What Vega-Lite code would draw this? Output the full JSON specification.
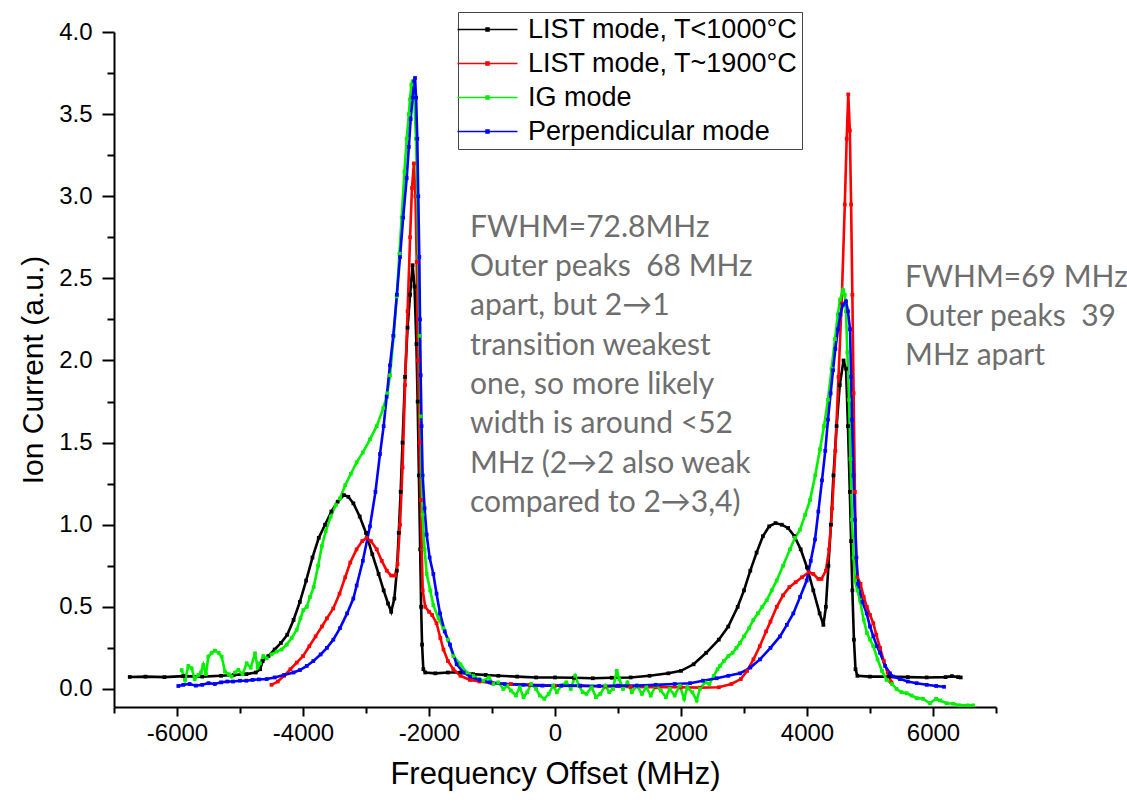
{
  "$schema": "https://vega.github.io/schema/vega-lite/v6.json",
  "width": 882,
  "height": 675,
  "autosize": {"type": "none"},
  "padding": {"left": 114, "top": 32, "right": 131, "bottom": 95},
  "background": "white",
  "config": {
    "view": {"stroke": null},
    "font": "Liberation Sans",
    "axis": {"domainColor": "#000", "domainWidth": 2, "tickColor": "#000", "tickWidth": 2, "labelColor": "#000", "titleColor": "#000", "grid": false, "labelFont": "Liberation Sans", "titleFont": "Liberation Sans", "titleFontWeight": "normal"}
  },
  "datasets": {
    "notes": [
      {"x": -1349, "y": 2.753, "t": ["FWHM=72.8MHz", "Outer peaks\u00a0 68 MHz", "apart, but 2→1", "transition weakest", "one, so more likely", "width is around <52", "MHz (2→2 also weak", "compared to 2→3,4)"]},
      {"x": 5556, "y": 2.448, "t": ["FWHM=69 MHz", "Outer peaks\u00a0 39", "MHz apart"]}
    ]
  },
  "data": {"values": [
    {"s":"A","x":-6750,"y":0.073},{"s":"A","x":-6500,"y":0.075},{"s":"A","x":-6200,"y":0.072},{"s":"A","x":-5900,"y":0.078},{"s":"A","x":-5600,"y":0.075},{"s":"A","x":-5300,"y":0.08},{"s":"A","x":-5100,"y":0.085},{"s":"A","x":-4900,"y":0.09},{"s":"A","x":-4750,"y":0.1},{"s":"A","x":-4680,"y":0.12},{"s":"A","x":-4640,"y":0.17},{"s":"A","x":-4550,"y":0.2},{"s":"A","x":-4450,"y":0.24},{"s":"A","x":-4350,"y":0.28},{"s":"A","x":-4250,"y":0.33},{"s":"A","x":-4150,"y":0.42},{"s":"A","x":-4050,"y":0.53},{"s":"A","x":-3950,"y":0.66},{"s":"A","x":-3850,"y":0.8},{"s":"A","x":-3750,"y":0.92},{"s":"A","x":-3650,"y":1.0},{"s":"A","x":-3550,"y":1.08},{"s":"A","x":-3450,"y":1.14},{"s":"A","x":-3350,"y":1.18},{"s":"A","x":-3280,"y":1.17},{"s":"A","x":-3200,"y":1.13},{"s":"A","x":-3100,"y":1.05},{"s":"A","x":-3000,"y":0.95},{"s":"A","x":-2900,"y":0.82},{"s":"A","x":-2800,"y":0.7},{"s":"A","x":-2720,"y":0.6},{"s":"A","x":-2650,"y":0.52},{"s":"A","x":-2600,"y":0.47},{"s":"A","x":-2550,"y":0.55},{"s":"A","x":-2510,"y":0.72},{"s":"A","x":-2480,"y":0.95},{"s":"A","x":-2450,"y":1.2},{"s":"A","x":-2420,"y":1.5},{"s":"A","x":-2380,"y":1.9},{"s":"A","x":-2340,"y":2.2},{"s":"A","x":-2300,"y":2.4},{"s":"A","x":-2260,"y":2.58},{"s":"A","x":-2230,"y":2.45},{"s":"A","x":-2200,"y":2.1},{"s":"A","x":-2180,"y":1.75},{"s":"A","x":-2160,"y":1.3},{"s":"A","x":-2140,"y":0.85},{"s":"A","x":-2125,"y":0.5},{"s":"A","x":-2110,"y":0.27},{"s":"A","x":-2090,"y":0.12},{"s":"A","x":-2060,"y":0.1},{"s":"A","x":-1900,"y":0.095},{"s":"A","x":-1700,"y":0.1},{"s":"A","x":-1500,"y":0.1},{"s":"A","x":-1300,"y":0.09},{"s":"A","x":-1100,"y":0.085},{"s":"A","x":-900,"y":0.08},{"s":"A","x":-600,"y":0.075},{"s":"A","x":-300,"y":0.07},{"s":"A","x":0,"y":0.07},{"s":"A","x":300,"y":0.068},{"s":"A","x":600,"y":0.065},{"s":"A","x":900,"y":0.068},{"s":"A","x":1200,"y":0.07},{"s":"A","x":1500,"y":0.08},{"s":"A","x":1800,"y":0.095},{"s":"A","x":2000,"y":0.11},{"s":"A","x":2200,"y":0.15},{"s":"A","x":2400,"y":0.22},{"s":"A","x":2600,"y":0.3},{"s":"A","x":2750,"y":0.38},{"s":"A","x":2900,"y":0.5},{"s":"A","x":3000,"y":0.6},{"s":"A","x":3100,"y":0.72},{"s":"A","x":3200,"y":0.83},{"s":"A","x":3300,"y":0.93},{"s":"A","x":3400,"y":0.99},{"s":"A","x":3500,"y":1.01},{"s":"A","x":3600,"y":1.0},{"s":"A","x":3700,"y":0.98},{"s":"A","x":3800,"y":0.93},{"s":"A","x":3900,"y":0.85},{"s":"A","x":4000,"y":0.74},{"s":"A","x":4100,"y":0.6},{"s":"A","x":4200,"y":0.46},{"s":"A","x":4260,"y":0.39},{"s":"A","x":4300,"y":0.5},{"s":"A","x":4340,"y":0.75},{"s":"A","x":4380,"y":1.0},{"s":"A","x":4420,"y":1.3},{"s":"A","x":4470,"y":1.6},{"s":"A","x":4520,"y":1.85},{"s":"A","x":4580,"y":2.0},{"s":"A","x":4620,"y":1.95},{"s":"A","x":4650,"y":1.6},{"s":"A","x":4680,"y":1.2},{"s":"A","x":4700,"y":0.9},{"s":"A","x":4720,"y":0.6},{"s":"A","x":4745,"y":0.3},{"s":"A","x":4770,"y":0.12},{"s":"A","x":4800,"y":0.08},{"s":"A","x":5000,"y":0.075},{"s":"A","x":5300,"y":0.075},{"s":"A","x":5600,"y":0.072},{"s":"A","x":5900,"y":0.07},{"s":"A","x":6200,"y":0.072},{"s":"A","x":6300,"y":0.078},{"s":"A","x":6400,"y":0.072},{"s":"A","x":6440,"y":0.07},

    {"s":"B","x":-4500,"y":0.025},{"s":"B","x":-4400,"y":0.045},{"s":"B","x":-4300,"y":0.08},{"s":"B","x":-4200,"y":0.12},{"s":"B","x":-4100,"y":0.16},{"s":"B","x":-4000,"y":0.2},{"s":"B","x":-3900,"y":0.26},{"s":"B","x":-3800,"y":0.32},{"s":"B","x":-3700,"y":0.38},{"s":"B","x":-3620,"y":0.43},{"s":"B","x":-3520,"y":0.49},{"s":"B","x":-3420,"y":0.58},{"s":"B","x":-3330,"y":0.68},{"s":"B","x":-3250,"y":0.77},{"s":"B","x":-3150,"y":0.85},{"s":"B","x":-3060,"y":0.9},{"s":"B","x":-2990,"y":0.92},{"s":"B","x":-2920,"y":0.9},{"s":"B","x":-2830,"y":0.85},{"s":"B","x":-2750,"y":0.78},{"s":"B","x":-2670,"y":0.72},{"s":"B","x":-2600,"y":0.69},{"s":"B","x":-2540,"y":0.69},{"s":"B","x":-2500,"y":0.76},{"s":"B","x":-2460,"y":1.0},{"s":"B","x":-2420,"y":1.35},{"s":"B","x":-2380,"y":1.85},{"s":"B","x":-2340,"y":2.3},{"s":"B","x":-2300,"y":2.75},{"s":"B","x":-2270,"y":3.05},{"s":"B","x":-2240,"y":3.2},{"s":"B","x":-2215,"y":3.0},{"s":"B","x":-2195,"y":2.6},{"s":"B","x":-2175,"y":2.0},{"s":"B","x":-2150,"y":1.5},{"s":"B","x":-2130,"y":1.15},{"s":"B","x":-2115,"y":0.85},{"s":"B","x":-2100,"y":0.6},{"s":"B","x":-2060,"y":0.5},{"s":"B","x":-2000,"y":0.47},{"s":"B","x":-1950,"y":0.45},{"s":"B","x":-1880,"y":0.4},{"s":"B","x":-1820,"y":0.31},{"s":"B","x":-1770,"y":0.24},{"s":"B","x":-1700,"y":0.17},{"s":"B","x":-1614,"y":0.12},{"s":"B","x":-1500,"y":0.08},{"s":"B","x":-1350,"y":0.055},{"s":"B","x":-1200,"y":0.045},{"s":"B","x":-1000,"y":0.035},{"s":"B","x":-700,"y":0.03},{"s":"B","x":-400,"y":0.025},{"s":"B","x":0,"y":0.02},{"s":"B","x":400,"y":0.018},{"s":"B","x":800,"y":0.015},{"s":"B","x":1200,"y":0.012},{"s":"B","x":1600,"y":0.01},{"s":"B","x":2000,"y":0.01},{"s":"B","x":2300,"y":0.008},{"s":"B","x":2600,"y":0.01},{"s":"B","x":2800,"y":0.03},{"s":"B","x":2950,"y":0.06},{"s":"B","x":3050,"y":0.11},{"s":"B","x":3150,"y":0.18},{"s":"B","x":3250,"y":0.26},{"s":"B","x":3350,"y":0.35},{"s":"B","x":3420,"y":0.41},{"s":"B","x":3520,"y":0.5},{"s":"B","x":3620,"y":0.57},{"s":"B","x":3720,"y":0.62},{"s":"B","x":3820,"y":0.65},{"s":"B","x":3920,"y":0.68},{"s":"B","x":4030,"y":0.71},{"s":"B","x":4100,"y":0.7},{"s":"B","x":4180,"y":0.67},{"s":"B","x":4230,"y":0.67},{"s":"B","x":4300,"y":0.72},{"s":"B","x":4350,"y":0.85},{"s":"B","x":4400,"y":1.1},{"s":"B","x":4450,"y":1.45},{"s":"B","x":4500,"y":1.9},{"s":"B","x":4550,"y":2.35},{"s":"B","x":4600,"y":2.95},{"s":"B","x":4630,"y":3.35},{"s":"B","x":4655,"y":3.62},{"s":"B","x":4680,"y":3.4},{"s":"B","x":4700,"y":2.95},{"s":"B","x":4720,"y":2.4},{"s":"B","x":4740,"y":1.8},{"s":"B","x":4760,"y":1.2},{"s":"B","x":4780,"y":0.8},{"s":"B","x":4800,"y":0.68},{"s":"B","x":4850,"y":0.64},{"s":"B","x":4900,"y":0.56},{"s":"B","x":4950,"y":0.5},{"s":"B","x":5000,"y":0.45},{"s":"B","x":5053,"y":0.4},{"s":"B","x":5100,"y":0.33},{"s":"B","x":5160,"y":0.25},{"s":"B","x":5220,"y":0.17},{"s":"B","x":5280,"y":0.1},{"s":"B","x":5340,"y":0.04},

    {"s":"C","x":-5926,"y":0.115},{"s":"C","x":-5873,"y":0.055},{"s":"C","x":-5820,"y":0.14},{"s":"C","x":-5767,"y":0.126},{"s":"C","x":-5720,"y":0.06},{"s":"C","x":-5661,"y":0.085},{"s":"C","x":-5620,"y":0.1},{"s":"C","x":-5582,"y":0.146},{"s":"C","x":-5540,"y":0.09},{"s":"C","x":-5503,"y":0.197},{"s":"C","x":-5450,"y":0.22},{"s":"C","x":-5397,"y":0.233},{"s":"C","x":-5340,"y":0.22},{"s":"C","x":-5291,"y":0.197},{"s":"C","x":-5238,"y":0.105},{"s":"C","x":-5180,"y":0.09},{"s":"C","x":-5132,"y":0.075},{"s":"C","x":-5080,"y":0.1},{"s":"C","x":-5027,"y":0.116},{"s":"C","x":-4960,"y":0.09},{"s":"C","x":-4894,"y":0.156},{"s":"C","x":-4830,"y":0.13},{"s":"C","x":-4762,"y":0.217},{"s":"C","x":-4720,"y":0.13},{"s":"C","x":-4683,"y":0.156},{"s":"C","x":-4630,"y":0.2},{"s":"C","x":-4577,"y":0.187},{"s":"C","x":-4500,"y":0.21},{"s":"C","x":-4418,"y":0.227},{"s":"C","x":-4340,"y":0.24},{"s":"C","x":-4259,"y":0.27},{"s":"C","x":-4180,"y":0.31},{"s":"C","x":-4100,"y":0.36},{"s":"C","x":-4040,"y":0.43},{"s":"C","x":-3995,"y":0.48},{"s":"C","x":-3940,"y":0.5},{"s":"C","x":-3889,"y":0.56},{"s":"C","x":-3830,"y":0.62},{"s":"C","x":-3760,"y":0.75},{"s":"C","x":-3700,"y":0.87},{"s":"C","x":-3640,"y":0.96},{"s":"C","x":-3560,"y":1.05},{"s":"C","x":-3480,"y":1.12},{"s":"C","x":-3413,"y":1.16},{"s":"C","x":-3330,"y":1.24},{"s":"C","x":-3240,"y":1.31},{"s":"C","x":-3148,"y":1.38},{"s":"C","x":-3050,"y":1.44},{"s":"C","x":-2937,"y":1.52},{"s":"C","x":-2830,"y":1.6},{"s":"C","x":-2725,"y":1.71},{"s":"C","x":-2660,"y":1.8},{"s":"C","x":-2619,"y":1.91},{"s":"C","x":-2560,"y":2.15},{"s":"C","x":-2513,"y":2.39},{"s":"C","x":-2470,"y":2.65},{"s":"C","x":-2434,"y":2.87},{"s":"C","x":-2390,"y":3.15},{"s":"C","x":-2354,"y":3.35},{"s":"C","x":-2320,"y":3.5},{"s":"C","x":-2302,"y":3.59},{"s":"C","x":-2280,"y":3.68},{"s":"C","x":-2259,"y":3.7},{"s":"C","x":-2235,"y":3.6},{"s":"C","x":-2206,"y":3.35},{"s":"C","x":-2185,"y":3.0},{"s":"C","x":-2169,"y":2.63},{"s":"C","x":-2150,"y":2.15},{"s":"C","x":-2132,"y":1.66},{"s":"C","x":-2115,"y":1.3},{"s":"C","x":-2101,"y":1.06},{"s":"C","x":-2070,"y":0.85},{"s":"C","x":-2037,"y":0.7},{"s":"C","x":-1980,"y":0.6},{"s":"C","x":-1931,"y":0.51},{"s":"C","x":-1850,"y":0.43},{"s":"C","x":-1772,"y":0.37},{"s":"C","x":-1700,"y":0.3},{"s":"C","x":-1614,"y":0.2},{"s":"C","x":-1500,"y":0.15},{"s":"C","x":-1402,"y":0.1},{"s":"C","x":-1300,"y":0.08},{"s":"C","x":-1200,"y":0.06},{"s":"C","x":-1138,"y":0.05},{"s":"C","x":-1050,"y":0.07},{"s":"C","x":-980,"y":0.03},{"s":"C","x":-900,"y":0.04},{"s":"C","x":-820,"y":0.0},{"s":"C","x":-760,"y":0.02},{"s":"C","x":-700,"y":-0.01},{"s":"C","x":-620,"y":-0.04},{"s":"C","x":-560,"y":0.01},{"s":"C","x":-500,"y":-0.05},{"s":"C","x":-440,"y":-0.02},{"s":"C","x":-380,"y":0.03},{"s":"C","x":-300,"y":0.0},{"s":"C","x":-240,"y":-0.04},{"s":"C","x":-170,"y":-0.06},{"s":"C","x":-100,"y":-0.03},{"s":"C","x":-30,"y":0.02},{"s":"C","x":30,"y":-0.02},{"s":"C","x":100,"y":0.02},{"s":"C","x":180,"y":0.04},{"s":"C","x":250,"y":0.0},{"s":"C","x":320,"y":0.08},{"s":"C","x":380,"y":0.02},{"s":"C","x":440,"y":-0.02},{"s":"C","x":500,"y":-0.03},{"s":"C","x":580,"y":0.01},{"s":"C","x":650,"y":-0.05},{"s":"C","x":720,"y":-0.03},{"s":"C","x":800,"y":0.02},{"s":"C","x":860,"y":-0.02},{"s":"C","x":920,"y":0.0},{"s":"C","x":980,"y":0.11},{"s":"C","x":1020,"y":0.06},{"s":"C","x":1080,"y":0.0},{"s":"C","x":1150,"y":0.04},{"s":"C","x":1220,"y":-0.02},{"s":"C","x":1300,"y":0.02},{"s":"C","x":1380,"y":-0.03},{"s":"C","x":1450,"y":0.01},{"s":"C","x":1520,"y":-0.04},{"s":"C","x":1600,"y":0.02},{"s":"C","x":1680,"y":-0.01},{"s":"C","x":1760,"y":-0.05},{"s":"C","x":1820,"y":0.0},{"s":"C","x":1900,"y":-0.04},{"s":"C","x":1980,"y":0.02},{"s":"C","x":2050,"y":-0.06},{"s":"C","x":2100,"y":0.01},{"s":"C","x":2180,"y":-0.02},{"s":"C","x":2249,"y":-0.07},{"s":"C","x":2300,"y":0.0},{"s":"C","x":2380,"y":0.04},{"s":"C","x":2450,"y":0.03},{"s":"C","x":2520,"y":0.08},{"s":"C","x":2580,"y":0.12},{"s":"C","x":2619,"y":0.14},{"s":"C","x":2680,"y":0.17},{"s":"C","x":2750,"y":0.2},{"s":"C","x":2820,"y":0.22},{"s":"C","x":2880,"y":0.25},{"s":"C","x":2937,"y":0.28},{"s":"C","x":3000,"y":0.32},{"s":"C","x":3080,"y":0.37},{"s":"C","x":3148,"y":0.42},{"s":"C","x":3220,"y":0.46},{"s":"C","x":3290,"y":0.5},{"s":"C","x":3360,"y":0.54},{"s":"C","x":3440,"y":0.6},{"s":"C","x":3519,"y":0.66},{"s":"C","x":3620,"y":0.75},{"s":"C","x":3730,"y":0.85},{"s":"C","x":3810,"y":0.92},{"s":"C","x":3889,"y":0.97},{"s":"C","x":3970,"y":1.06},{"s":"C","x":4048,"y":1.15},{"s":"C","x":4130,"y":1.3},{"s":"C","x":4206,"y":1.46},{"s":"C","x":4270,"y":1.6},{"s":"C","x":4333,"y":1.76},{"s":"C","x":4390,"y":1.95},{"s":"C","x":4444,"y":2.13},{"s":"C","x":4490,"y":2.28},{"s":"C","x":4524,"y":2.37},{"s":"C","x":4571,"y":2.43},{"s":"C","x":4600,"y":2.4},{"s":"C","x":4619,"y":2.3},{"s":"C","x":4640,"y":2.05},{"s":"C","x":4667,"y":1.76},{"s":"C","x":4690,"y":1.4},{"s":"C","x":4714,"y":1.03},{"s":"C","x":4740,"y":0.8},{"s":"C","x":4762,"y":0.66},{"s":"C","x":4800,"y":0.6},{"s":"C","x":4841,"y":0.54},{"s":"C","x":4900,"y":0.42},{"s":"C","x":4952,"y":0.34},{"s":"C","x":5000,"y":0.3},{"s":"C","x":5053,"y":0.26},{"s":"C","x":5120,"y":0.18},{"s":"C","x":5190,"y":0.11},{"s":"C","x":5265,"y":0.055},{"s":"C","x":5350,"y":0.03},{"s":"C","x":5420,"y":0.0},{"s":"C","x":5500,"y":-0.02},{"s":"C","x":5582,"y":-0.026},{"s":"C","x":5660,"y":-0.04},{"s":"C","x":5741,"y":-0.056},{"s":"C","x":5841,"y":-0.06},{"s":"C","x":5952,"y":-0.087},{"s":"C","x":6050,"y":-0.06},{"s":"C","x":6111,"y":-0.07},{"s":"C","x":6217,"y":-0.087},{"s":"C","x":6320,"y":-0.09},{"s":"C","x":6429,"y":-0.1},{"s":"C","x":6550,"y":-0.1},{"s":"C","x":6635,"y":-0.1},

    {"s":"D","x":-5979,"y":0.018},{"s":"D","x":-5900,"y":0.025},{"s":"D","x":-5800,"y":0.03},{"s":"D","x":-5700,"y":0.02},{"s":"D","x":-5600,"y":0.025},{"s":"D","x":-5500,"y":0.035},{"s":"D","x":-5400,"y":0.03},{"s":"D","x":-5300,"y":0.04},{"s":"D","x":-5200,"y":0.045},{"s":"D","x":-5111,"y":0.045},{"s":"D","x":-5000,"y":0.05},{"s":"D","x":-4900,"y":0.05},{"s":"D","x":-4800,"y":0.055},{"s":"D","x":-4700,"y":0.058},{"s":"D","x":-4577,"y":0.06},{"s":"D","x":-4450,"y":0.07},{"s":"D","x":-4300,"y":0.085},{"s":"D","x":-4150,"y":0.1},{"s":"D","x":-4048,"y":0.115},{"s":"D","x":-3940,"y":0.14},{"s":"D","x":-3836,"y":0.17},{"s":"D","x":-3720,"y":0.21},{"s":"D","x":-3620,"y":0.25},{"s":"D","x":-3519,"y":0.3},{"s":"D","x":-3413,"y":0.37},{"s":"D","x":-3300,"y":0.46},{"s":"D","x":-3201,"y":0.55},{"s":"D","x":-3148,"y":0.63},{"s":"D","x":-3050,"y":0.78},{"s":"D","x":-2937,"y":0.99},{"s":"D","x":-2850,"y":1.2},{"s":"D","x":-2778,"y":1.43},{"s":"D","x":-2720,"y":1.6},{"s":"D","x":-2672,"y":1.78},{"s":"D","x":-2620,"y":1.97},{"s":"D","x":-2567,"y":2.15},{"s":"D","x":-2510,"y":2.4},{"s":"D","x":-2460,"y":2.63},{"s":"D","x":-2410,"y":2.87},{"s":"D","x":-2354,"y":3.11},{"s":"D","x":-2320,"y":3.3},{"s":"D","x":-2291,"y":3.47},{"s":"D","x":-2260,"y":3.6},{"s":"D","x":-2235,"y":3.7},{"s":"D","x":-2222,"y":3.72},{"s":"D","x":-2205,"y":3.6},{"s":"D","x":-2186,"y":3.35},{"s":"D","x":-2170,"y":3.0},{"s":"D","x":-2154,"y":2.63},{"s":"D","x":-2143,"y":2.25},{"s":"D","x":-2132,"y":1.91},{"s":"D","x":-2118,"y":1.6},{"s":"D","x":-2101,"y":1.3},{"s":"D","x":-2070,"y":1.1},{"s":"D","x":-2037,"y":0.94},{"s":"D","x":-1990,"y":0.8},{"s":"D","x":-1931,"y":0.7},{"s":"D","x":-1880,"y":0.58},{"s":"D","x":-1825,"y":0.46},{"s":"D","x":-1750,"y":0.35},{"s":"D","x":-1667,"y":0.27},{"s":"D","x":-1561,"y":0.15},{"s":"D","x":-1450,"y":0.1},{"s":"D","x":-1349,"y":0.075},{"s":"D","x":-1200,"y":0.055},{"s":"D","x":-1032,"y":0.04},{"s":"D","x":-800,"y":0.03},{"s":"D","x":-500,"y":0.025},{"s":"D","x":-200,"y":0.02},{"s":"D","x":100,"y":0.02},{"s":"D","x":400,"y":0.02},{"s":"D","x":700,"y":0.018},{"s":"D","x":1000,"y":0.02},{"s":"D","x":1300,"y":0.02},{"s":"D","x":1600,"y":0.025},{"s":"D","x":1900,"y":0.03},{"s":"D","x":2143,"y":0.035},{"s":"D","x":2350,"y":0.05},{"s":"D","x":2566,"y":0.065},{"s":"D","x":2750,"y":0.08},{"s":"D","x":2937,"y":0.095},{"s":"D","x":3100,"y":0.13},{"s":"D","x":3254,"y":0.18},{"s":"D","x":3420,"y":0.25},{"s":"D","x":3571,"y":0.32},{"s":"D","x":3680,"y":0.39},{"s":"D","x":3783,"y":0.46},{"s":"D","x":3890,"y":0.56},{"s":"D","x":3995,"y":0.66},{"s":"D","x":4060,"y":0.78},{"s":"D","x":4127,"y":0.91},{"s":"D","x":4180,"y":1.08},{"s":"D","x":4238,"y":1.27},{"s":"D","x":4290,"y":1.45},{"s":"D","x":4333,"y":1.64},{"s":"D","x":4375,"y":1.8},{"s":"D","x":4413,"y":1.94},{"s":"D","x":4450,"y":2.07},{"s":"D","x":4492,"y":2.19},{"s":"D","x":4530,"y":2.28},{"s":"D","x":4571,"y":2.34},{"s":"D","x":4619,"y":2.36},{"s":"D","x":4650,"y":2.3},{"s":"D","x":4683,"y":2.19},{"s":"D","x":4700,"y":1.9},{"s":"D","x":4714,"y":1.64},{"s":"D","x":4738,"y":1.3},{"s":"D","x":4762,"y":1.03},{"s":"D","x":4785,"y":0.8},{"s":"D","x":4810,"y":0.64},{"s":"D","x":4880,"y":0.53},{"s":"D","x":4947,"y":0.46},{"s":"D","x":5000,"y":0.38},{"s":"D","x":5053,"y":0.32},{"s":"D","x":5110,"y":0.26},{"s":"D","x":5159,"y":0.22},{"s":"D","x":5240,"y":0.14},{"s":"D","x":5317,"y":0.095},{"s":"D","x":5370,"y":0.075},{"s":"D","x":5476,"y":0.06},{"s":"D","x":5600,"y":0.045},{"s":"D","x":5741,"y":0.035},{"s":"D","x":5900,"y":0.025},{"s":"D","x":6050,"y":0.018},{"s":"D","x":6175,"y":0.013}
  ]},
  "layer": [
    {
      "mark": {"type": "line", "strokeWidth": 2.6, "clip": true},
      "encoding": {
        "x": {"field": "x", "type": "quantitative", "scale": {"domain": [-7000, 7000], "nice": false, "zero": false},
          "axis": {"values": [-7000,-6000,-5000,-4000,-3000,-2000,-1000,0,1000,2000,3000,4000,5000,6000,7000],
            "labelExpr": "round(datum.value/1000) % 2 == 0 ? '' + datum.value : ''",
            "tickSize": {"condition": {"test": "round(datum.value/1000) % 2 == 0", "value": 9}, "value": 6},
            "labelFontSize": 24, "labelPadding": 5, "title": "Frequency Offset (MHz)", "titleFontSize": 31, "titlePadding": 14}},
        "y": {"field": "y", "type": "quantitative", "scale": {"domain": [-0.11, 4.0], "nice": false, "zero": false},
          "axis": {"values": [0,0.25,0.5,0.75,1,1.25,1.5,1.75,2,2.25,2.5,2.75,3,3.25,3.5,3.75,4],
            "labelExpr": "round(datum.value*4) % 2 == 0 ? format(datum.value, '.1f') : ''",
            "tickSize": {"condition": {"test": "round(datum.value*4) % 2 == 0", "value": 12}, "value": 7},
            "labelFontSize": 24, "labelPadding": 10, "title": "Ion Current (a.u.)", "titleFontSize": 30, "titlePadding": 10}},
        "color": {"field": "s", "type": "nominal", "scale": {"domain": ["A","B","C","D"], "range": ["#000000","#ff0000","#00f000","#0000ff"]},
          "legend": {"orient": "none", "legendX": 344, "legendY": -20, "title": null,
            "labelExpr": "{'A':'LIST mode, T<1000°C','B':'LIST mode, T~1900°C','C':'IG mode','D':'Perpendicular mode'}[datum.label]",
            "symbolType": "M-3,0H3M-0.15,-0.15H0.15V0.15H-0.15Z", "symbolSize": 400, "symbolStrokeWidth": 1.5, "symbolOffset": 12,
            "labelFontSize": 27, "labelFont": "Liberation Sans", "labelColor": "#000",
            "labelOffset": 27, "rowPadding": 6, "padding": 4, "strokeColor": "#444", "fillColor": "white", "labelLimit": 400}}
      }
    },
    {
      "mark": {"type": "point", "shape": "square", "filled": true, "size": 14, "opacity": 1, "clip": true},
      "encoding": {
        "x": {"field": "x", "type": "quantitative"},
        "y": {"field": "y", "type": "quantitative"},
        "color": {"field": "s", "type": "nominal", "legend": null}
      }
    },
    {
      "data": {"name": "notes"},
      "mark": {"type": "text", "align": "left", "baseline": "alphabetic", "font": "Lato", "fontSize": 30, "lineHeight": 39.3, "color": "#6e6e6e"},
      "encoding": {
        "x": {"field": "x", "type": "quantitative"},
        "y": {"field": "y", "type": "quantitative"},
        "text": {"field": "t"}
      }
    }
  ]
}
